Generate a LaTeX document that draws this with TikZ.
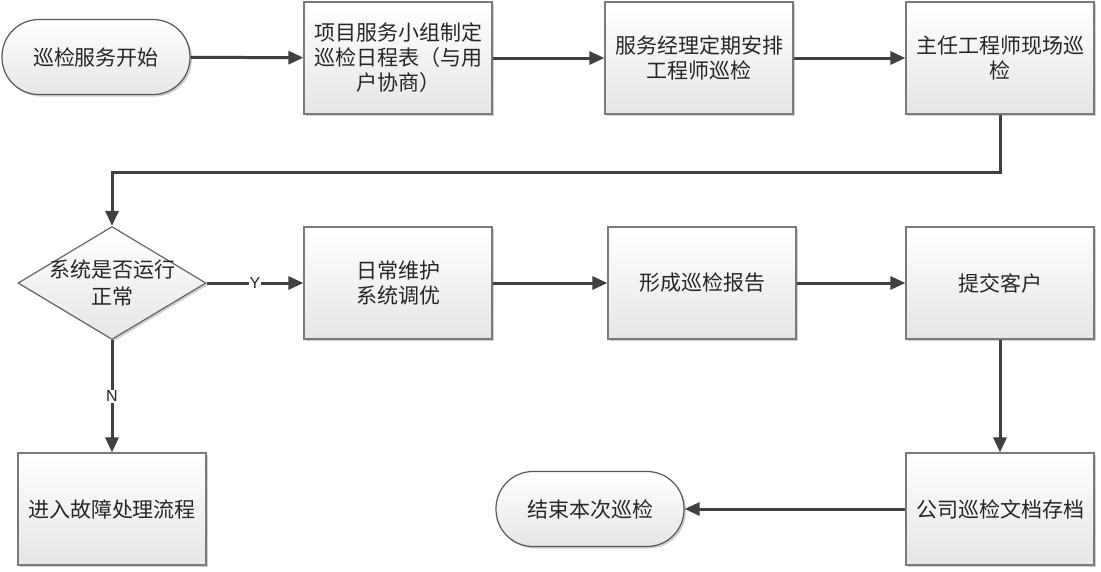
\documentclass[tikz,border=0pt]{standalone}
\usepackage{fontspec}
\newfontfamily\cjk{Noto Sans CJK SC}
\newfontfamily\lat{Liberation Sans}
\usetikzlibrary{arrows.meta,shapes.geometric,shadows}
\definecolor{linec}{HTML}{404040}
\definecolor{bordc}{HTML}{7A7A7A}
\definecolor{botc}{HTML}{E6E6E6}
\tikzset{
  x=1pt, y=-1pt,
  shad/.style={drop shadow={shadow xshift=2pt, shadow yshift=-2pt, fill=black!30, opacity=0.6}},
  procbox/.style={rectangle, draw=bordc, line width=1.2pt, top color=white, bottom color=botc,
    minimum width=188pt, minimum height=112pt, inner sep=0pt, align=center,
    font=\cjk\fontsize{21}{25}\selectfont, text=black!85, shad},
  termbox/.style={rectangle, rounded corners=37pt, draw=black!65, line width=1.2pt, top color=white, bottom color=botc,
    minimum width=188pt, minimum height=75pt, inner sep=0pt, align=center,
    font=\cjk\fontsize{21}{25}\selectfont, text=black!85, shad},
  decision/.style={diamond, draw=black!60, line width=1.2pt, top color=white, bottom color=botc,
    minimum width=188pt, minimum height=113pt, inner sep=0pt, shad},
  dtext/.style={align=center, font=\cjk\fontsize{21}{27}\selectfont, text=black!85, inner sep=0pt},
  arr/.style={draw=linec, line width=3pt, -{Triangle[length=15pt,width=13pt]}},
  yn/.style={fill=white, inner sep=1pt, font=\lat\fontsize{16}{16}\selectfont, text=black!85},
}
\begin{document}
\begin{tikzpicture}
\useasboundingbox (0,0) rectangle (1101,571);
\fill[white] (0,0) rectangle (1101,571);
\node[termbox] (start) at (96,57) {巡检服务开始};
\node[procbox] (b1) at (398,58) {项目服务小组制定\\巡检日程表（与用\\户协商）};
\node[procbox] (b2) at (699,58) {服务经理定期安排\\工程师巡检};
\node[procbox] (b3) at (1000,58) {主任工程师现场巡\\检};
\node[decision] (d) at (112,283) {};
\node[dtext] (dt) at (112,283) {系统是否运行\\正常};
\node[procbox] (b4) at (398,283) {日常维护\\系统调优};
\node[procbox] (b5) at (702,283) {形成巡检报告};
\node[procbox] (b6) at (1000,283) {提交客户};
\node[procbox] (b7) at (112,509) {进入故障处理流程};
\node[procbox] (b8) at (1000,509) {公司巡检文档存档};
\node[termbox] (end) at (590,509) {结束本次巡检};

\draw[arr] (start) -- (b1);
\draw[arr] (b1) -- (b2);
\draw[arr] (b2) -- (b3);
\draw[arr] (b3.south) -- ++(0,58) -| (d.north);
\draw[arr] (d.east) -- node[yn] {Y} (b4.west);
\draw[arr] (b4) -- (b5);
\draw[arr] (b5) -- (b6);
\draw[arr] (d.south) -- node[yn] {N} (b7.north);
\draw[arr] (b6) -- (b8);
\draw[arr] (b8) -- (end);
\end{tikzpicture}
\end{document}
